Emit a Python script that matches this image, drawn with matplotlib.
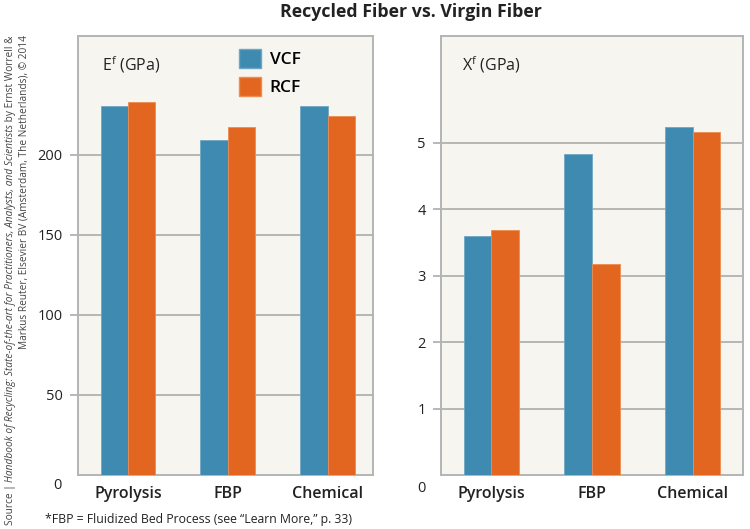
import matplotlib.pyplot as plt
import numpy as np
from matplotlib.patches import Patch

processes = ['Pyrolysis', 'FBP', 'Chemical']
series = ['VCF', 'RCF']
modulus_vcf = [230, 209, 230]
modulus_rcf = [233, 217.5, 224]
strength_vcf = [3.6, 4.83, 5.24]
strength_rcf = [3.69, 3.18, 5.16]
modulus_ticks = [50, 100, 150, 200]
strength_ticks = [1, 2, 3, 4, 5]

BLUE = '#3e8ab0'
ORANGE = '#e2661f'
FACE = '#f7f5f0'
GRID = '#ababab'

plt.rcParams['font.family'] = ['Open Sans', 'DejaVu Sans']
plt.rcParams['mathtext.fontset'] = 'custom'
plt.rcParams['mathtext.rm'] = 'Open Sans'

fig = plt.figure(figsize=(7.5, 5.29), dpi=100)
fig.patch.set_facecolor('white')

ax1 = fig.add_axes([78 / 750, 54 / 529, 295 / 750, 439 / 529])
ax2 = fig.add_axes([441 / 750, 54 / 529, 302 / 750, 439 / 529])


def draw_panel(ax, vcf, rcf, ticks, ylim, xmax, ylab, zero_off):
    x = np.arange(len(processes))
    w = 0.275
    ax.set_facecolor(FACE)
    ax.bar(x - w / 2, vcf, w, color=BLUE, edgecolor='#6fa6c4', linewidth=0.6, zorder=3)
    ax.bar(x + w / 2, rcf, w, color=ORANGE, edgecolor='#ee8c52', linewidth=0.6, zorder=3)
    ax.set_xlim(-0.5, xmax)
    ax.set_ylim(0, ylim)
    ax.set_yticks(ticks)
    ax.set_yticklabels([str(t) for t in ticks], fontsize=10.5, color='#222222')
    ax.set_xticks(x)
    ax.set_xticklabels(processes, fontsize=11.5, fontweight='semibold', color='#222222')
    ax.tick_params(axis='x', length=0, pad=8)
    ax.tick_params(axis='y', length=6, width=1.2, color=GRID, pad=5)
    ax.yaxis.grid(True, color=GRID, linewidth=1.2, zorder=1)
    for s in ax.spines.values():
        s.set_color('#b4b4b4')
        s.set_linewidth(1.4)
    ax.annotate('0', xy=(0, 0), xycoords='axes fraction', xytext=zero_off,
                textcoords='offset points', ha='center', va='center',
                fontsize=10.5, color='#222222')
    ax.text(0.08 if xmax < 2.48 else 0.07, 0.935, ylab, transform=ax.transAxes,
            fontsize=11.5, ha='left', va='center', color='#222222')


draw_panel(ax1, modulus_vcf, modulus_rcf, modulus_ticks, 274, 2.45,
           r'E$^{\mathrm{f}}$ (GPa)', (-14.5, -7.5))
draw_panel(ax2, strength_vcf, strength_rcf, strength_ticks, 6.61, 2.5,
           r'X$^{\mathrm{f}}$ (GPa)', (-14, -9.5))

handles = [Patch(facecolor=BLUE, edgecolor='#6fa6c4'), Patch(facecolor=ORANGE, edgecolor='#ee8c52')]
ax1.legend(handles, series, loc='upper left', bbox_to_anchor=(0.515, 0.99),
           frameon=False, borderpad=0, handlelength=1.3, handleheight=1.3,
           handletextpad=0.5, labelspacing=0.5,
           prop={'size': 12.5, 'weight': 'semibold'})

fig.text(0.548, 0.977, 'Recycled Fiber vs. Virgin Fiber', ha='center', va='center',
         fontsize=12.8, fontweight='bold', color='#222222')
fig.text(45 / 750, 1 - 520 / 529, '*FBP = Fluidized Bed Process (see \u201cLearn More,\u201d p. 33)',
         ha='left', va='center', fontsize=8.8, color='#222222')

# rotated source credit, two lines, aligned at the top
src_size = 7.25
pieces = [('Source | ', 'normal'),
          ('Handbook of Recycling: State-of-the-art for Practitioners, Analysts, and Scientists', 'italic'),
          (' by Ernst Worrell &', 'normal')]
renderer = fig.canvas.get_renderer()
top_px = 529 - 35
objs = []
for txt, st in pieces:
    t = fig.text(11 / 750, 0, txt, rotation=90, ha='center', va='bottom',
                 fontsize=src_size, style=st, color='#444444')
    objs.append(t)
heights = [t.get_window_extent(renderer).height for t in objs]
y = top_px - sum(heights)
for t, h in zip(objs, heights):
    t.set_y(y / 529)
    y += h
fig.text(24 / 750, 1 - 35 / 529,
         'Markus Reuter, Elsevier BV (Amsterdam, The Netherlands), \u00a9 2014',
         rotation=90, ha='center', va='top', fontsize=src_size, color='#444444')

fig.savefig('out.png', dpi=100)
